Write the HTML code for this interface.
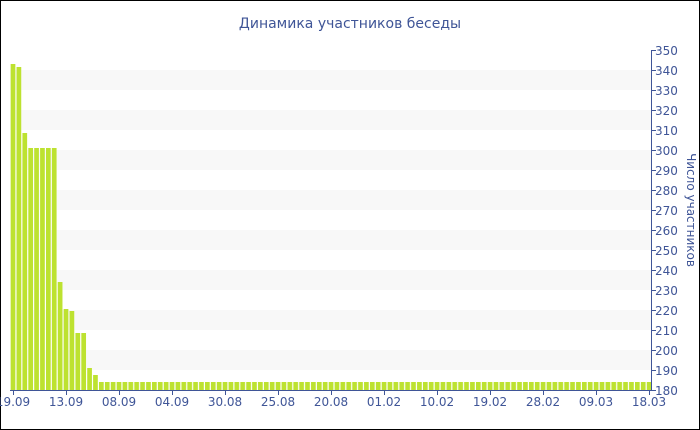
<!DOCTYPE html>
<html><head><meta charset="utf-8"><style>
body{margin:0;background:#fff}
svg{display:block;font-family:"DejaVu Sans","Liberation Sans",sans-serif}
</style></head><body>
<svg width="700" height="430" viewBox="0 0 700 430">
<defs>
<pattern id="bp" x="10.65" y="0" width="5.89" height="430" patternUnits="userSpaceOnUse">
<rect x="0" y="382" width="4.7" height="8" fill="#bde230"/>
</pattern>
</defs>
<rect x="0.5" y="0.5" width="699" height="429" fill="#fff" stroke="#000"/>
<text x="350" y="28" font-size="14" fill="#3f5597" text-anchor="middle">Динамика участников беседы</text>
<g fill="#f8f8f8">
<rect x="10" y="70" width="641" height="20"/>
<rect x="10" y="110" width="641" height="20"/>
<rect x="10" y="150" width="641" height="20"/>
<rect x="10" y="190" width="641" height="20"/>
<rect x="10" y="230" width="641" height="20"/>
<rect x="10" y="270" width="641" height="20"/>
<rect x="10" y="310" width="641" height="20"/>
<rect x="10" y="350" width="641" height="20"/>
</g>
<g fill="#bde230">
<rect x="10.65" y="64" width="4.7" height="326"/>
<rect x="16.54" y="67" width="4.7" height="323"/>
<rect x="22.43" y="133" width="4.7" height="257"/>
<rect x="28.32" y="148" width="4.7" height="242"/>
<rect x="34.21" y="148" width="4.7" height="242"/>
<rect x="40.10" y="148" width="4.7" height="242"/>
<rect x="45.99" y="148" width="4.7" height="242"/>
<rect x="51.88" y="148" width="4.7" height="242"/>
<rect x="57.77" y="282" width="4.7" height="108"/>
<rect x="63.66" y="309" width="4.7" height="81"/>
<rect x="69.55" y="311" width="4.7" height="79"/>
<rect x="75.44" y="333" width="4.7" height="57"/>
<rect x="81.33" y="333" width="4.7" height="57"/>
<rect x="87.22" y="368" width="4.7" height="22"/>
<rect x="93.11" y="375" width="4.7" height="15"/>
</g>
<rect x="99" y="380" width="553" height="10" fill="url(#bp)"/>
<line x1="10" y1="390.5" x2="651" y2="390.5" stroke="#3f5597"/>
<line x1="651.5" y1="50" x2="651.5" y2="391" stroke="#3f5597"/>
<g stroke="#3f5597">
<line x1="651" y1="50.5" x2="656" y2="50.5"/><line x1="651" y1="70.5" x2="656" y2="70.5"/>
<line x1="651" y1="90.5" x2="656" y2="90.5"/><line x1="651" y1="110.5" x2="656" y2="110.5"/>
<line x1="651" y1="130.5" x2="656" y2="130.5"/><line x1="651" y1="150.5" x2="656" y2="150.5"/>
<line x1="651" y1="170.5" x2="656" y2="170.5"/><line x1="651" y1="190.5" x2="656" y2="190.5"/>
<line x1="651" y1="210.5" x2="656" y2="210.5"/><line x1="651" y1="230.5" x2="656" y2="230.5"/>
<line x1="651" y1="250.5" x2="656" y2="250.5"/><line x1="651" y1="270.5" x2="656" y2="270.5"/>
<line x1="651" y1="290.5" x2="656" y2="290.5"/><line x1="651" y1="310.5" x2="656" y2="310.5"/>
<line x1="651" y1="330.5" x2="656" y2="330.5"/><line x1="651" y1="350.5" x2="656" y2="350.5"/>
<line x1="651" y1="370.5" x2="656" y2="370.5"/><line x1="651" y1="390.5" x2="656" y2="390.5"/>
<line x1="13.5" y1="390" x2="13.5" y2="395"/><line x1="66.5" y1="390" x2="66.5" y2="395"/>
<line x1="119.5" y1="390" x2="119.5" y2="395"/><line x1="172.5" y1="390" x2="172.5" y2="395"/>
<line x1="225.5" y1="390" x2="225.5" y2="395"/><line x1="278.5" y1="390" x2="278.5" y2="395"/>
<line x1="331.5" y1="390" x2="331.5" y2="395"/><line x1="384.5" y1="390" x2="384.5" y2="395"/>
<line x1="437.5" y1="390" x2="437.5" y2="395"/><line x1="490.5" y1="390" x2="490.5" y2="395"/>
<line x1="543.5" y1="390" x2="543.5" y2="395"/><line x1="596.5" y1="390" x2="596.5" y2="395"/>
<line x1="649.5" y1="390" x2="649.5" y2="395"/>
</g>
<g fill="#3f5597" font-size="12">
<text x="655" y="55">350</text><text x="655" y="75">340</text><text x="655" y="95">330</text>
<text x="655" y="115">320</text><text x="655" y="135">310</text><text x="655" y="155">300</text>
<text x="655" y="175">290</text><text x="655" y="195">280</text><text x="655" y="215">270</text>
<text x="655" y="235">260</text><text x="655" y="255">250</text><text x="655" y="275">240</text>
<text x="655" y="295">230</text><text x="655" y="315">220</text><text x="655" y="335">210</text>
<text x="655" y="355">200</text><text x="655" y="375">190</text><text x="655" y="395">180</text>
</g>
<g fill="#3f5597" font-size="12" text-anchor="middle">
<text x="13" y="406">19.09</text><text x="66" y="406">13.09</text><text x="119" y="406">08.09</text>
<text x="172" y="406">04.09</text><text x="225" y="406">30.08</text><text x="278" y="406">25.08</text>
<text x="331" y="406">20.08</text><text x="384" y="406">01.02</text><text x="437" y="406">10.02</text>
<text x="490" y="406">19.02</text><text x="543" y="406">28.02</text><text x="596" y="406">09.03</text>
<text x="649" y="406">18.03</text>
</g>
<text transform="translate(687,210) rotate(90)" fill="#3f5597" font-size="12" text-anchor="middle">Число участников</text>
</svg>
</body></html>
